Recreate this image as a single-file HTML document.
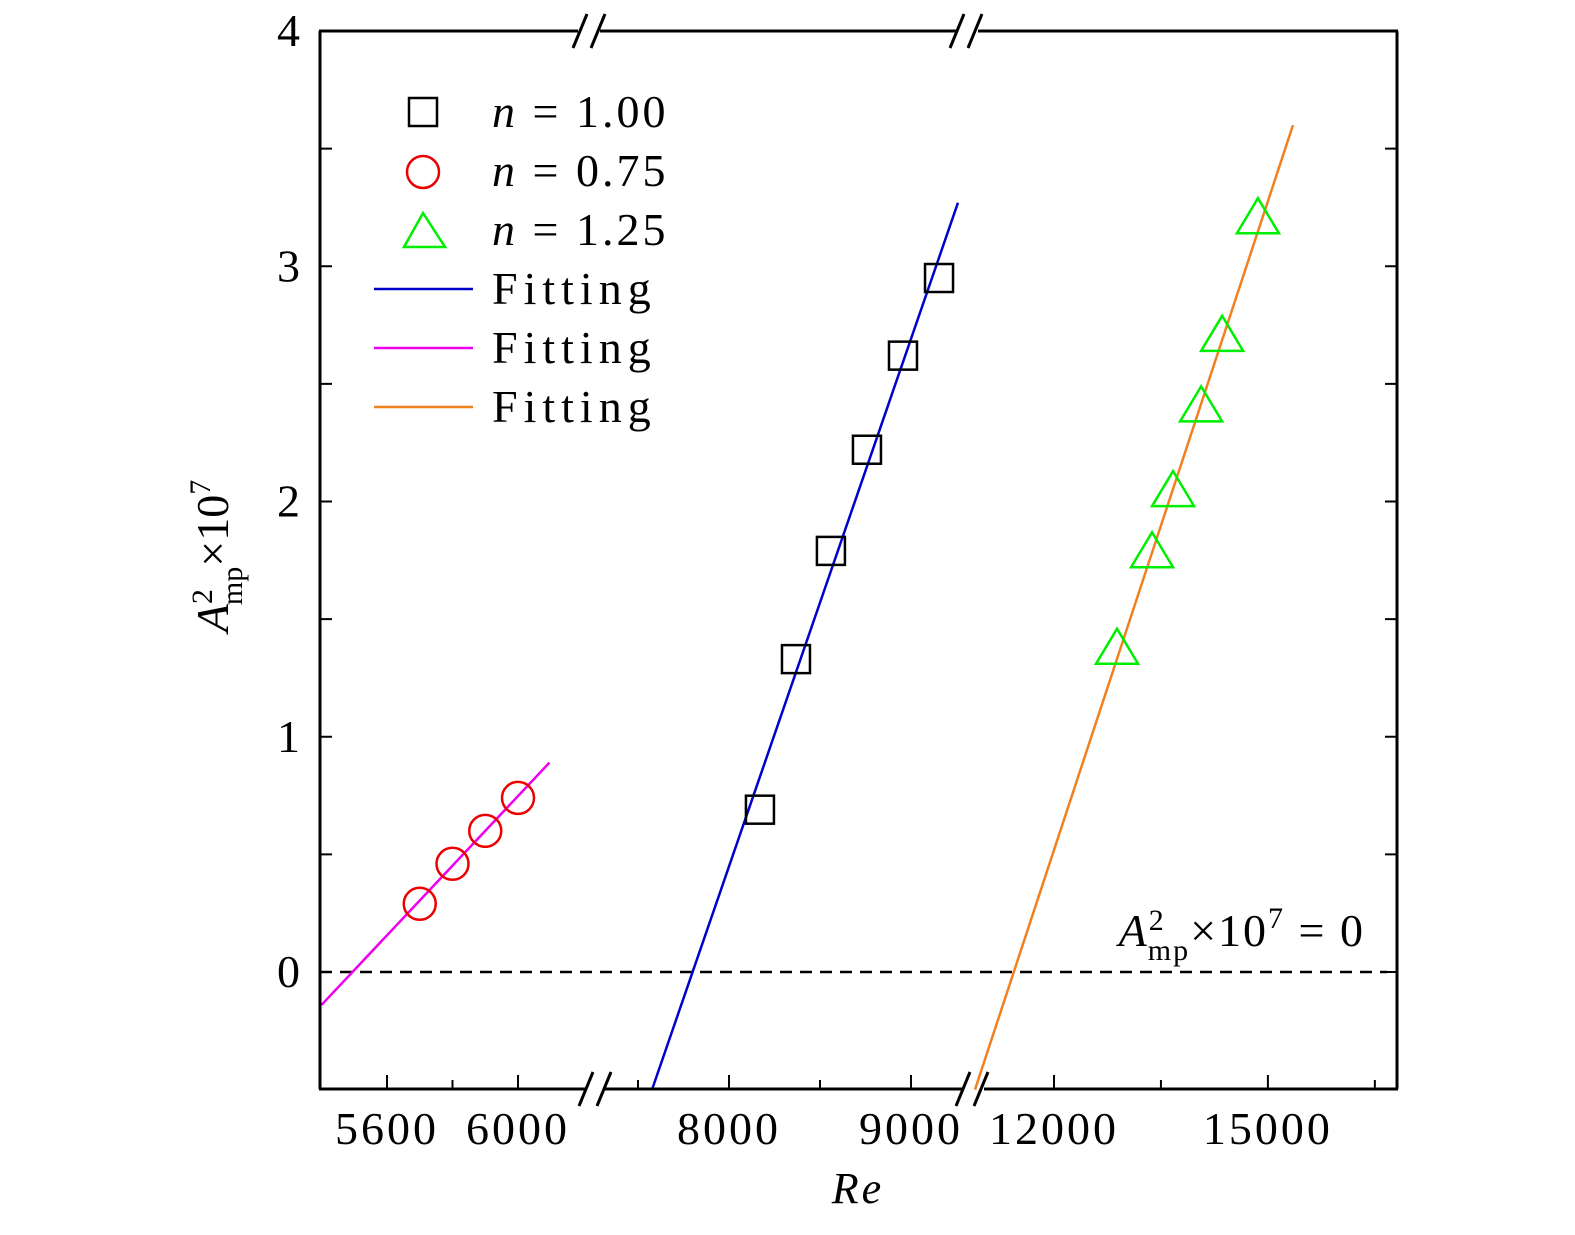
<!DOCTYPE html>
<html><head><meta charset="utf-8"><style>
body{margin:0;background:#fff;overflow:hidden}
svg text{font-family:"Liberation Serif",serif;fill:#000}
.num{letter-spacing:3px}
</style></head><body>
<svg id="chart" width="1575" height="1230" xmlns="http://www.w3.org/2000/svg">
<g id="marks"></g>
<g id="axes"></g>
<text x="858" y="1203" font-size="44" font-style="italic" text-anchor="middle" letter-spacing="3">Re</text>
<text transform="translate(228,556) rotate(-90)" font-size="46" text-anchor="middle"><tspan font-style="italic">A</tspan><tspan font-size="30" dy="-16">2</tspan><tspan font-size="30" dx="-16" dy="30">mp</tspan><tspan dy="-14">×10</tspan><tspan font-size="30" dy="-18">7</tspan></text>
<text x="1365" y="946" font-size="46" text-anchor="end" letter-spacing="2"><tspan font-style="italic">A</tspan><tspan font-size="30" dy="-16">2</tspan><tspan font-size="30" dx="-18" dy="30">mp</tspan><tspan dy="-14">×10</tspan><tspan font-size="30" dy="-18">7</tspan><tspan dy="18"> = 0</tspan></text>
<g font-size="46">
<rect x="409" y="98" width="28" height="28" fill="none" stroke="#000" stroke-width="2.5"/>
<text x="492" y="127" letter-spacing="3"><tspan font-style="italic">n</tspan>  =  1.00</text>
<circle cx="423" cy="172" r="16" fill="none" stroke="#e00" stroke-width="2.5"/>
<text x="492" y="186" letter-spacing="3"><tspan font-style="italic">n</tspan>  =  0.75</text>
<polygon points="423,213 445,247 404,247" fill="none" stroke="#0e0" stroke-width="2.5"/>
<text x="492" y="245" letter-spacing="3"><tspan font-style="italic">n</tspan>  =  1.25</text>
<line x1="374" y1="289" x2="473" y2="289" stroke="#00c" stroke-width="2.5"/>
<text x="492" y="304" letter-spacing="6">Fitting</text>
<line x1="374" y1="348" x2="473" y2="348" stroke="#e0e" stroke-width="2.5"/>
<text x="492" y="363" letter-spacing="6">Fitting</text>
<line x1="374" y1="407" x2="473" y2="407" stroke="#f08020" stroke-width="2.5"/>
<text x="492" y="422" letter-spacing="6">Fitting</text>
</g>
</svg>
<script>
const circleRe=[5700,5800,5900,6000];
const circleA=[0.29,0.46,0.60,0.74];
const squareRe=[8170,8368,8560,8758,8956,9154];
const squareA=[0.69,1.33,1.79,2.22,2.62,2.95];
const triRe=[12884,13375,13670,14063,14358,14860];
const triA=[1.37,1.78,2.04,2.40,2.70,3.20];
const fitMagentaRe=[5400,6096];
const fitMagentaA=[-0.14,0.89];
const fitBlueRe=[7577,9258];
const fitBlueA=[-0.5,3.27];
const fitOrangeRe=[10892,15352];
const fitOrangeA=[-0.5,3.6];
const yTicks=[0,1,2,3,4];
const seg1Ticks=[5600,5800,6000];const seg1Labels=["5600","","6000"];
const seg2Ticks=[7500,8000,8500,9000];const seg2Labels=["","8000","","9000"];
const seg3Ticks=[12000,13500,15000,16500];const seg3Labels=["12000","","15000",""];

const L=320,R=1397,T=31,B=1089;
function y(v){return 972-v*235.25;}
function x(v){
  if(v<7000) return 387+(v-5600)*0.3275;
  if(v<10000) return 729+(v-8000)*0.182;
  return 1054+(v-12000)*0.0713;
}
const NS="http://www.w3.org/2000/svg";
function mk(parent,tag,attrs){const e=document.createElementNS(NS,tag);for(const k in attrs)e.setAttribute(k,attrs[k]);parent.appendChild(e);return e;}
const marks=document.getElementById('marks'),axes=document.getElementById('axes');

let z=mk(marks,'line',{x1:L,y1:y(0),x2:1387,y2:y(0),stroke:'#000','stroke-width':2.5,'stroke-dasharray':'12,8'});



function fit(xs,ys,col,name){
  const l=mk(marks,'line',{x1:x(xs[0]),y1:y(ys[0]),x2:x(xs[1]),y2:y(ys[1]),stroke:col,'stroke-width':2.5});
  
  
}
fit(fitMagentaRe,fitMagentaA,'#e0e','fit-line-magenta');
fit(fitBlueRe,fitBlueA,'#00c','fit-line-blue');
fit(fitOrangeRe,fitOrangeA,'#f08020','fit-line-orange');

circleRe.forEach((r,i)=>{
  const c=mk(marks,'circle',{cx:x(r),cy:y(circleA[i]),r:16,fill:'none',stroke:'#e00','stroke-width':2.5});
  
  
});
squareRe.forEach((r,i)=>{
  const s=mk(marks,'rect',{x:x(r)-14,y:y(squareA[i])-14,width:28,height:28,fill:'none',stroke:'#000','stroke-width':2.5});
  
  
});
triRe.forEach((r,i)=>{
  const cx=x(r),cy=y(triA[i]);
  const p=mk(marks,'polygon',{points:`${cx},${cy-21} ${cx+21},${cy+14} ${cx-21},${cy+14}`,fill:'none',stroke:'#0e0','stroke-width':2.5});
  
  
});

const sw=3;
mk(axes,'line',{x1:L,y1:T,x2:L,y2:B,stroke:'#000','stroke-width':sw});
mk(axes,'line',{x1:R,y1:T,x2:R,y2:B,stroke:'#000','stroke-width':sw});
[[L-1,578],[600,956],[978,R+1]].forEach(s=>{
  mk(axes,'line',{x1:s[0],y1:T,x2:s[1],y2:T,stroke:'#000','stroke-width':sw});
});
[[L-1,585],[605,962],[984,R+1]].forEach(s=>{
  mk(axes,'line',{x1:s[0],y1:B,x2:s[1],y2:B,stroke:'#000','stroke-width':sw});
});
function brk(cx,cy,name){
  [-9,9].forEach(d=>{
    const b=mk(axes,'line',{x1:cx+d-7,y1:cy+17,x2:cx+d+7,y2:cy-17,stroke:'#000','stroke-width':3});
    
    
  });
}
brk(589,T,'axis-break');brk(966,T,'axis-break');
brk(595,B,'axis-break');brk(972,B,'axis-break');

yTicks.forEach(v=>{
  mk(axes,'line',{x1:L,y1:y(v),x2:L+12,y2:y(v),stroke:'#000','stroke-width':2});
  mk(axes,'line',{x1:R,y1:y(v),x2:R-12,y2:y(v),stroke:'#000','stroke-width':2});
  const t=mk(axes,'text',{x:300,y:y(v)+15,'font-size':46,'text-anchor':'end'});
  t.textContent=String(v);
  
  
  if(v<4){const h=v+0.5;
    mk(axes,'line',{x1:L,y1:y(h),x2:L+12,y2:y(h),stroke:'#000','stroke-width':2});
    mk(axes,'line',{x1:R,y1:y(h),x2:R-12,y2:y(h),stroke:'#000','stroke-width':2});}
});

function xt(ticks,labels){
  ticks.forEach((v,i)=>{
    const big=labels[i]!=="";
    mk(axes,'line',{x1:x(v),y1:B,x2:x(v),y2:B-(big?14:9),stroke:'#000','stroke-width':2});
    if(big){
      const t=mk(axes,'text',{x:x(v),y:1144,'font-size':46,'text-anchor':'middle','class':'num'});
      t.textContent=labels[i];
      
      
    }
  });
}
xt(seg1Ticks,seg1Labels);xt(seg2Ticks,seg2Labels);xt(seg3Ticks,seg3Labels);
</script>
</body></html>
